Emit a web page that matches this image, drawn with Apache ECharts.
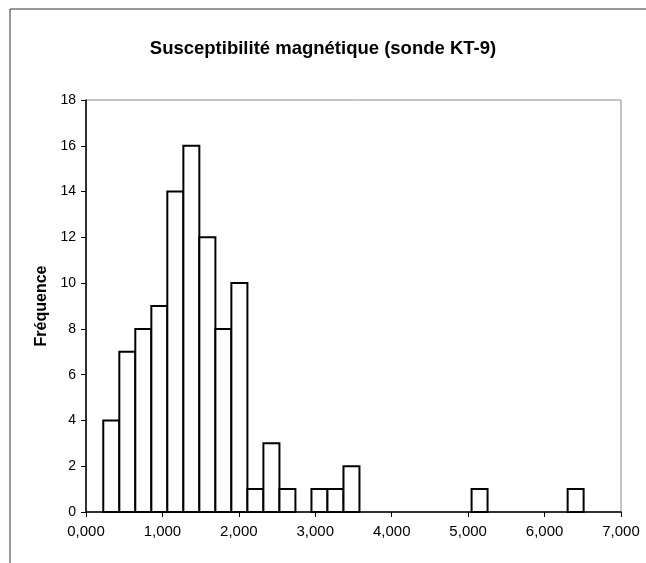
<!DOCTYPE html>
<html>
<head>
<meta charset="utf-8">
<script src="https://cdn.jsdelivr.net/npm/echarts@6/dist/echarts.min.js"></script>
<style>
html,body{margin:0;padding:0;background:#fff;}
#chart{width:646px;height:563px;}
</style>
</head>
<body>
<div id="chart"></div>
<script>
// Histogram bins (lower / upper edges, in axis units) and frequencies
var binLow  = [0.226,0.436,0.645,0.855,1.064,1.274,1.483,1.693,1.902,2.112,2.321,2.531,2.740,2.950,3.159,3.369,3.578,3.788,3.997,4.207,4.416,4.626,4.835,5.045,5.254,5.464,5.673,5.883,6.092,6.302];
var binHigh = [0.436,0.645,0.855,1.064,1.274,1.483,1.693,1.902,2.112,2.321,2.531,2.740,2.950,3.159,3.369,3.578,3.788,3.997,4.207,4.416,4.626,4.835,5.045,5.254,5.464,5.673,5.883,6.092,6.302,6.511];
var freq    = [4,7,8,9,14,16,12,8,10,1,3,1,0,1,1,2,0,0,0,0,0,0,0,1,0,0,0,0,0,1];
var titleText = 'Susceptibilité magnétique (sonde KT-9)';
var yName = 'Fréquence';

var data = binLow.map(function(lo, i){ return [lo, binHigh[i], freq[i]]; });

var chart = echarts.init(document.getElementById('chart'), null, {renderer:'canvas'});
var font = '"Liberation Sans", Arial, sans-serif';
chart.setOption({
  animation: false,
  backgroundColor: '#fff',
  title: {
    text: titleText,
    left: 'center',
    top: 34,
    textStyle: {fontFamily: font, fontSize: 18.5, fontWeight: 'bold', color: '#000'}
  },
  grid: {
    left: 86, right: 25, top: 100, bottom: 51,
    show: true, borderColor: '#8a8a8a', borderWidth: 1, backgroundColor: 'transparent'
  },
  xAxis: {
    type: 'value', min: 0, max: 7, interval: 1,
    axisLine: {show: true, lineStyle: {color: '#000', width: 1.5}},
    axisTick: {show: true, length: 5, lineStyle: {color: '#000', width: 1}},
    splitLine: {show: false},
    axisLabel: {
      fontFamily: font, fontSize: 15, color: '#000', margin: 12,
      formatter: function(v){ return v.toFixed(3).replace('.', ','); }
    }
  },
  yAxis: {
    type: 'value', min: 0, max: 18, interval: 2,
    name: yName, nameLocation: 'middle', nameGap: 34,
    nameTextStyle: {fontFamily: font, fontSize: 16, fontWeight: 'bold', color: '#000'},
    axisLine: {show: true, lineStyle: {color: '#000', width: 1.5}},
    axisTick: {show: true, length: 5, lineStyle: {color: '#000', width: 1}},
    splitLine: {show: false},
    axisLabel: {fontFamily: font, fontSize: 14, color: '#000', margin: 10}
  },
  series: [{
    type: 'custom',
    data: data,
    encode: {x: [0, 1], y: 2},
    renderItem: function(params, api){
      var f = api.value(2);
      if (!f) { return null; }
      var p1 = api.coord([api.value(0), f]);
      var p2 = api.coord([api.value(1), 0]);
      return {
        type: 'rect',
        shape: {x: p1[0], y: p1[1], width: p2[0] - p1[0], height: p2[1] - p1[1]},
        style: {fill: '#fff', stroke: '#000', lineWidth: 2}
      };
    }
  }],
  graphic: [
    {type: 'line', shape: {x1: 10, y1: 9, x2: 646, y2: 9}, style: {stroke: '#333', lineWidth: 1}},
    {type: 'line', shape: {x1: 10, y1: 9, x2: 10, y2: 563}, style: {stroke: '#333', lineWidth: 1}}
  ]
});
</script>
</body>
</html>
